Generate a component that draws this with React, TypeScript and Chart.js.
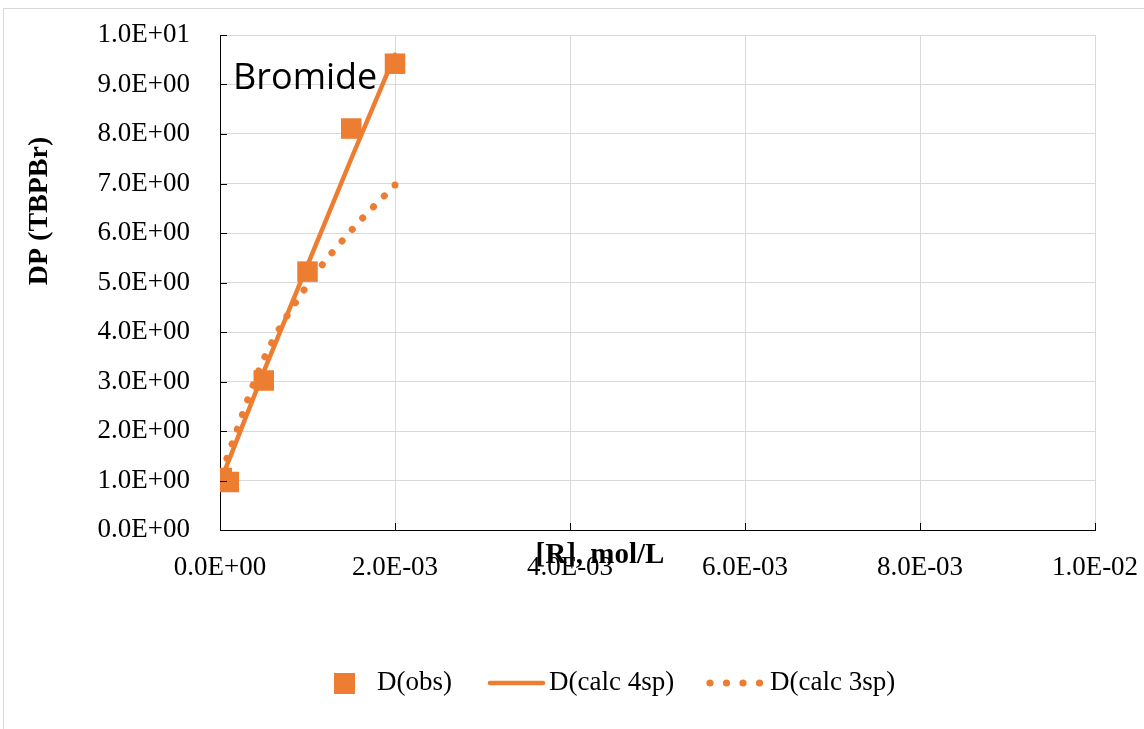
import React, { useEffect, useRef } from 'react';
import { Chart, registerables } from 'chart.js';

Chart.register(...registerables);

// ---- data ----
const xObs = [0.00002, 0.0001, 0.0005, 0.001, 0.0015, 0.002];
const dObs = [1.05, 0.97, 3.02, 5.22, 8.11, 9.42];
const xCalc = [0.00002, 0.0001, 0.0005, 0.001, 0.0015, 0.002];
const dCalc4sp = [1.05, 1.4, 3.2, 5.35, 7.5, 9.6];
const dCalc3sp = [1.15, 1.55, 3.45, 4.95, 6.05, 6.97];
const seriesLabels = ['D(obs)', 'D(calc 4sp)', 'D(calc 3sp)'];
const xAxisTitle = '[R], mol/L';
const yAxisTitle = 'DP (TBPBr)';
const annotationText = 'Bromide';
const xRange = [0, 0.01];
const xStep = 0.002;
const yRange = [0, 10];
const yStep = 1;

const ORANGE = '#ED7D31';
const GRID = '#d9d9d9';
const SERIF = '"Liberation Serif", "Times New Roman", serif';

const fmtSci = (v: number) => {
  const [m, e] = Number(v).toExponential(1).split('e');
  const sign = e[0] === '-' ? '-' : '+';
  const digits = e.replace(/^[+-]/, '').padStart(2, '0');
  return `${m}E${sign}${digits}`;
};

const zeroPad = (s: any) => {
  s.paddingLeft = 0;
  s.paddingRight = 0;
  s.paddingTop = 0;
  s.paddingBottom = 0;
};

const decorPlugin = {
  id: 'decor',
  beforeDraw(chart: any) {
    const ctx = chart.ctx;
    ctx.save();
    ctx.fillStyle = '#ffffff';
    ctx.fillRect(0, 0, chart.width, chart.height);
    ctx.strokeStyle = GRID;
    ctx.lineWidth = 1;
    ctx.strokeRect(3.5, 8.5, chart.width + 10, chart.height + 10);
    ctx.restore();
  },
  afterDraw(chart: any) {
    const ctx = chart.ctx;
    const area = chart.chartArea;
    const xs = chart.scales.x;
    const ys = chart.scales.y;
    ctx.save();
    // inside tick marks
    ctx.strokeStyle = '#000';
    ctx.lineWidth = 1;
    ctx.beginPath();
    ys.ticks.forEach((t: any) => {
      const y = Math.round(ys.getPixelForValue(t.value)) + 0.5;
      ctx.moveTo(area.left, y);
      ctx.lineTo(area.left + 7, y);
    });
    xs.ticks.forEach((t: any) => {
      const x = Math.round(xs.getPixelForValue(t.value)) + 0.5;
      ctx.moveTo(x, area.bottom);
      ctx.lineTo(x, area.bottom - 7);
    });
    ctx.stroke();

    // axis titles
    ctx.fillStyle = '#000';
    ctx.font = `bold 29px ${SERIF}`;
    ctx.textAlign = 'center';
    ctx.textBaseline = 'alphabetic';
    ctx.fillText(xAxisTitle, 600, 563);
    ctx.font = `bold 28px ${SERIF}`;
    ctx.save();
    ctx.translate(47, 211);
    ctx.rotate(-Math.PI / 2);
    ctx.fillText(yAxisTitle, 0, 0);
    ctx.restore();

    // annotation
    ctx.font = '36px "Open Sans", sans-serif';
    ctx.textAlign = 'left';
    ctx.fillText(annotationText, 233, 89);

    // legend
    const labels = chart.data.datasets.map((d: any) => d.label);
    const ly = 683;
    ctx.font = `27px ${SERIF}`;
    ctx.fillStyle = ORANGE;
    ctx.fillRect(334, ly - 10, 21, 21);
    ctx.strokeStyle = ORANGE;
    ctx.lineWidth = 4.5;
    ctx.lineCap = 'round';
    ctx.beginPath();
    ctx.moveTo(490, ly);
    ctx.lineTo(543, ly);
    ctx.stroke();
    [710, 726.5, 743, 759.5].forEach((cx) => {
      ctx.beginPath();
      ctx.arc(cx, ly, 3.6, 0, Math.PI * 2);
      ctx.fill();
    });
    ctx.fillStyle = '#000';
    ctx.fillText(labels[0], 377, 690);
    ctx.fillText(labels[1], 549, 690);
    ctx.fillText(labels[2], 770, 690);
    ctx.restore();
  },
};

export default function App() {
  const ref = useRef<HTMLCanvasElement | null>(null);
  useEffect(() => {
    if (!ref.current) return;
    const chart = new Chart(ref.current, {
      type: 'scatter',
      data: {
        datasets: [
          {
            label: seriesLabels[0],
            data: xObs.map((x, i) => ({ x, y: dObs[i] })),
            pointStyle: 'rect',
            pointRadius: 14.5,
            pointHoverRadius: 14.5,
            backgroundColor: ORANGE,
            borderColor: ORANGE,
            borderWidth: 0,
            showLine: false,
          },
          {
            label: seriesLabels[1],
            data: xCalc.map((x, i) => ({ x, y: dCalc4sp[i] })),
            showLine: true,
            pointRadius: 0,
            borderColor: ORANGE,
            backgroundColor: ORANGE,
            borderWidth: 4.5,
            borderCapStyle: 'round',
            borderJoinStyle: 'round',
          },
          {
            label: seriesLabels[2],
            data: xCalc.map((x, i) => ({ x, y: dCalc3sp[i] })),
            showLine: true,
            pointRadius: xCalc.map((_, i) => (i === xCalc.length - 1 ? 3.5 : 0)),
            pointBorderWidth: 0,
            pointBackgroundColor: ORANGE,
            borderColor: ORANGE,
            backgroundColor: ORANGE,
            borderWidth: 7,
            borderDash: [0.1, 15.4],
            borderCapStyle: 'round',
            cubicInterpolationMode: 'monotone',
          },
        ],
      },
      options: {
        animation: false,
        responsive: false,
        maintainAspectRatio: false,
        layout: { padding: { left: 0, right: 49, top: 35, bottom: 0 } },
        plugins: { legend: { display: false }, tooltip: { enabled: false } },
        scales: {
          x: {
            type: 'linear',
            min: xRange[0],
            max: xRange[1],
            ticks: {
              stepSize: xStep,
              callback: (v: any) => fmtSci(Number(v)),
              font: { family: SERIF, size: 27 },
              color: '#000',
              padding: 22,
              maxRotation: 0,
            },
            grid: { color: GRID, lineWidth: 1, drawTicks: false },
            border: { color: '#000', width: 1 },
            afterFit: (s: any) => {
              s.height = 199;
              zeroPad(s);
            },
          },
          y: {
            type: 'linear',
            min: yRange[0],
            max: yRange[1],
            ticks: {
              stepSize: yStep,
              callback: (v: any) => fmtSci(Number(v)),
              font: { family: SERIF, size: 27 },
              color: '#000',
              padding: 30,
            },
            grid: { color: GRID, lineWidth: 1, drawTicks: false },
            border: { color: '#000', width: 1 },
            afterFit: (s: any) => {
              s.width = 220;
              zeroPad(s);
            },
          },
        },
      } as any,
      plugins: [decorPlugin],
    });
    return () => chart.destroy();
  }, []);
  return (
    <div style={{ position: 'absolute', left: 0, top: 0, width: 1144, height: 729 }}>
      <canvas ref={ref} width={1144} height={729} style={{ display: 'block', width: 1144, height: 729 }} />
    </div>
  );
}
